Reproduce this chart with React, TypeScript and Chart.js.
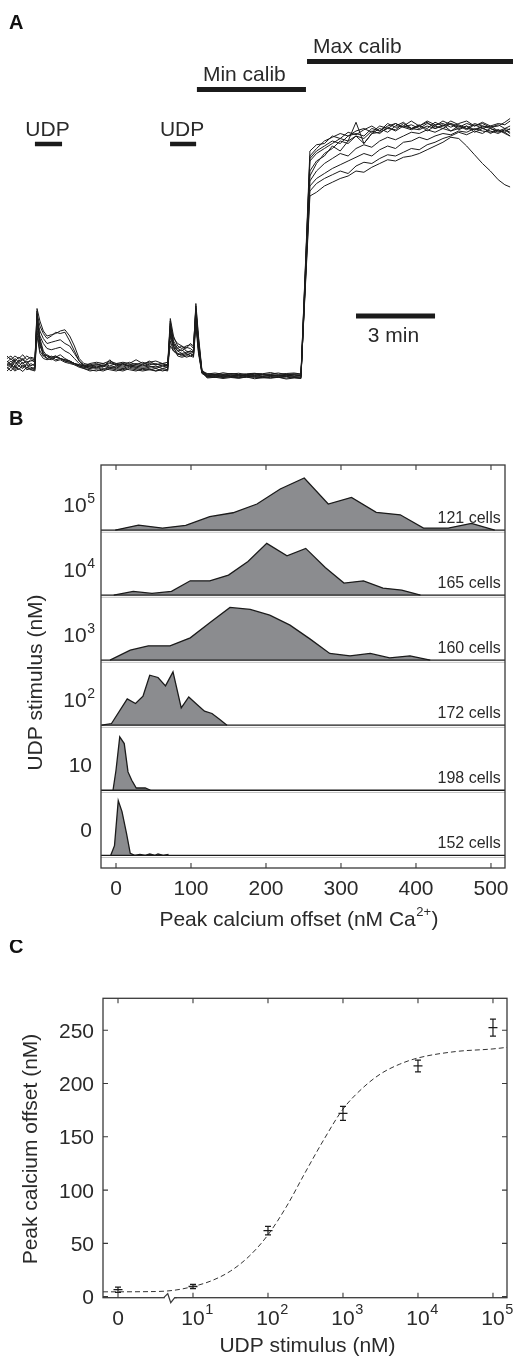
import React, { useEffect, useRef } from "react";
import { Chart, registerables } from "chart.js";
Chart.register(...registerables);

const FONT = "'Liberation Sans', Arial, Helvetica, sans-serif";
const INK = "#1b1b1b";
const TXT = "#2a2a2a";
const FRAME = "#3a3a3a";
const FILL = "#8b8c8f";

// ---------------- Panel A: single-cell calcium traces (a.u.; min calib = 0, max calib = 100) ----------------
const traceTimes = [0, 0.15, 0.3, 0.45, 0.6, 0.75, 0.9, 1.06, 1.14, 1.25, 1.38, 1.52, 1.68, 1.85, 2.02, 2.2, 2.38, 2.56, 2.74, 2.92, 3.15, 3.4, 3.65, 3.9, 4.15, 4.4, 4.65, 4.9, 5.15, 5.4, 5.65, 5.9, 6.1, 6.2, 6.32, 6.48, 6.64, 6.8, 6.96, 7.08, 7.17, 7.27, 7.4, 7.6, 7.9, 8.2, 8.5, 8.8, 9.1, 9.4, 9.7, 10.0, 10.3, 10.6, 10.9, 11.16, 11.32, 11.5, 11.75, 12.05, 12.35, 12.65, 12.95, 13.25, 13.55, 13.85, 14.15, 14.45, 14.75, 15.05, 15.35, 15.65, 15.95, 16.25, 16.55, 16.85, 17.15, 17.45, 17.75, 18.05, 18.35, 18.65, 18.9, 19.1];

const trace1 = [5, 3.5, 6, 4, 5.5, 3, 5, 4, 27, 22, 18, 16, 16.5, 17, 18, 18.5, 16, 12, 7, 5, 4.5, 5, 4, 5.5, 4.5, 5, 4, 4.5, 5.5, 4.5, 5, 4, 4.5, 23, 16, 12, 11, 12, 12.5, 11, 28, 15, 2, 0.5, 0.2, 0.6, 0, 0.4, 0.1, 0.5, 0, 0.3, -0.1, 0.4, 0, 0.2, 40, 88, 91, 94, 95.5, 97, 96, 98, 99, 97.5, 100, 99, 101, 99.5, 100.5, 99, 101, 100, 102, 100.5, 99.5, 101, 100, 101.5, 100, 101, 100.5, 102];
const trace2 = [7, 8, 6, 7.5, 6.5, 8, 7, 6.5, 25, 20, 17, 15, 16, 17.5, 17, 17.5, 14, 10, 6, 4.5, 4, 4.5, 5, 4, 5, 4.5, 5.5, 4.5, 4, 5, 4.5, 5, 4, 21, 15, 13, 12, 11, 13, 12, 27, 13, 1.5, 0.8, 1.2, 0.7, 1.0, 0.6, 0.9, 1.1, 0.7, 0.8, 1.2, 0.6, 0.9, 0.7, 42, 90, 92.5, 93, 96, 95, 97.5, 96.5, 98.5, 100, 98, 101, 99.5, 100, 102, 100, 99, 101.5, 100, 102, 100.5, 99, 101, 100, 99.5, 100.5, 99, 100];
const trace3 = [3, 4.5, 2.5, 4, 3, 5, 3.5, 3, 23, 18, 15, 13, 13.5, 14, 14.5, 13, 12, 9, 6, 4, 3, 3.5, 2.5, 3.5, 3, 2.5, 3.5, 3, 2.5, 3, 2, 3, 2.5, 18, 13, 10, 9, 9.5, 10, 9, 25, 12, 1.8, -0.3, 0, -0.5, -0.2, -0.6, -0.1, -0.4, -0.7, -0.2, -0.5, -0.8, -0.3, -0.5, 36, 76, 79, 81, 83, 84.5, 86, 87.5, 89, 88, 90.5, 92, 91, 93.5, 94, 95.5, 94.5, 96, 97, 96.5, 98, 97.5, 99, 98, 97.5, 98.5, 97, 96];
const trace4 = [6, 4.5, 7, 5.5, 6.5, 5, 6.5, 5.5, 21, 16, 13, 11, 10.5, 11, 11.5, 10, 9, 7, 5, 4, 4, 3.5, 4.5, 3.5, 4, 5, 4, 3.5, 4.5, 4, 3.5, 4.5, 4, 20, 14, 11, 12, 10, 9.5, 10, 29, 16, 2.5, 0.3, 0.6, 0.2, 0.5, 0.1, 0.6, 0.3, 0.7, 0.2, 0.4, 0.1, 0.5, 0.3, 39, 86, 89, 91, 93, 95, 94, 101.5, 93, 97, 97.5, 99, 98.5, 101, 99, 100.5, 98, 100, 99, 101, 98.5, 100, 97.5, 99, 98, 97, 98.5, 97];
const trace5 = [2, 3.5, 2, 3, 1.8, 3.5, 2.5, 2, 24, 15, 10, 8, 7.5, 8, 7, 6.5, 6, 5, 4.5, 4, 3.5, 3, 4, 3, 3.5, 3, 4, 3.5, 3, 3.5, 4, 3, 3.5, 16, 11, 9, 8, 8.5, 9, 8, 24, 10, 1.5, -0.8, -0.5, -1.0, -0.6, -0.9, -0.4, -1.1, -0.7, -0.9, -0.5, -1.2, -0.8, -1.0, 37, 80, 85, 89, 91, 94, 93, 96, 95, 98, 97, 99.5, 98, 100, 99, 98.5, 100, 99, 100.5, 98, 99, 100, 98.5, 99.5, 97, 98.5, 97.5, 96];
const trace6 = [8, 6.5, 8, 7, 8.5, 6.5, 7.5, 7, 22, 14, 9, 7, 8, 6.5, 7, 6, 5.5, 5, 4, 3.5, 3, 4, 3.5, 6.5, 4, 3.5, 4.5, 4, 3.5, 4, 3, 4, 3.5, 19, 12, 10, 10.5, 9, 10, 9.5, 26, 14, 2, 1.0, 0.6, 1.3, 0.8, 1.1, 0.5, 1.0, 0.9, 1.4, 0.7, 1.0, 1.2, 0.8, 41, 87, 90, 92, 94, 93, 96, 97, 96, 99, 98, 100, 101, 99.5, 98.5, 100, 101.5, 99, 100, 101, 100, 98.5, 100.5, 99, 100, 98, 99, 98.5];
const trace7 = [4.5, 6, 4, 6.5, 5, 6, 4, 5, 18, 10, 8, 8.5, 7.5, 8, 7, 6.5, 6, 5, 4.5, 4, 5, 5.5, 5, 6, 5, 5.5, 5, 6.5, 5, 5.5, 6, 5, 5.5, 12, 10, 9, 8.5, 9, 8, 8.5, 22, 11, 1.5, 0.1, 0.4, -0.1, 0.3, 0, 0.5, 0.2, -0.2, 0.3, 0.1, 0.4, -0.1, 0.2, 35, 74, 77, 79, 80.5, 82, 81, 84, 85.5, 85, 87, 88.5, 88, 89.5, 91, 90.5, 92.5, 93.5, 95, 96, 97.5, 96.5, 98, 97, 99, 98, 97.5, 99];
const trace8 = [3.5, 2, 4, 2.5, 4.5, 2.5, 3, 2.5, 26, 13, 8, 7, 6.5, 7.5, 7, 6, 5.5, 4.5, 4, 3, 2.5, 2, 3, 2.5, 2, 3, 2.5, 2, 3, 2.5, 2, 2.5, 2, 22, 13, 11, 10, 11.5, 11, 10, 27, 13, 2, -0.5, -0.2, -0.6, -0.3, -0.1, -0.5, -0.2, -0.6, -0.3, -0.4, -0.1, -0.6, -0.3, 38, 82, 86, 88, 92, 90, 94, 96, 93, 97, 99, 97.5, 100, 101.5, 99, 100, 102, 100.5, 101, 99.5, 101, 102, 100, 101, 99.5, 100, 101.5, 103];
const trace9 = [5.5, 7, 5, 6, 7, 5.5, 6, 6.5, 20, 12, 9, 8, 7, 7.5, 8.5, 7, 6, 5, 4, 3.5, 4, 4.5, 4, 5, 4.5, 4, 4.5, 5, 4.5, 6, 4.5, 5, 4.5, 17, 12, 8, 7.5, 8, 9, 8.5, 23, 10, 1.2, 0.4, 0.7, 0.3, 0.9, 0.5, 0.2, 0.8, 0.4, 0.6, 0.3, 0.7, 0.5, 0.2, 34, 72, 73.5, 76, 77.5, 79, 80, 82, 81.5, 83.5, 85, 86.5, 86, 87.5, 88, 89, 90.5, 92, 93.5, 95.5, 95, 92, 88.5, 85, 82, 78.5, 76.5, 75.6];
const trace10 = [4, 5, 3, 5.5, 3.5, 4.5, 2.5, 3.5, 16, 9, 7, 6.5, 7, 6, 6.5, 5.5, 5, 4.5, 3.5, 3, 2, 2.5, 2, 3, 2.5, 2, 3, 2.5, 2, 2.5, 3, 2, 2.5, 14, 10, 8.5, 9, 7.5, 8, 7.5, 20, 9, 1, -0.2, -0.6, -0.1, -0.4, -0.8, -0.3, -0.5, -0.2, -0.7, -0.4, -0.2, -0.5, -0.9, 37, 78, 82, 85, 87, 89, 88, 91, 92.5, 91.5, 94, 95.5, 94.5, 96, 97.5, 97, 98.5, 97.5, 99, 98, 100, 99, 98.5, 100, 99, 97.5, 98.5, 97.5];
const traces = [trace1, trace2, trace3, trace4, trace5, trace6, trace7, trace8, trace9, trace10];

// treatment intervals (minutes)
const stimLabels = ["UDP", "UDP", "Min calib", "Max calib"];
const stimStart = [1.06, 6.19, 7.21, 11.39];
const stimEnd = [2.09, 7.18, 11.35, 19.3];
const scaleBarStart = 13.25;
const scaleBarMinutes = 3;

// ---------------- Panel B: histograms of peak calcium offset ----------------
const histStimBase = ["10", "10", "10", "10", "10", "0"];
const histStimSup = ["5", "4", "3", "2", "", ""];
const histCells = [121, 165, 160, 172, 198, 152];
const histX1e5 = [-1, 30, 62, 93, 125, 156, 188, 219, 251, 283, 314, 347, 379, 410, 443, 474, 505];
const histF1e5 = [0, 0.077, 0.031, 0.072, 0.205, 0.266, 0.4, 0.631, 0.8, 0.4, 0.503, 0.272, 0.235, 0.031, 0.031, 0.103, 0];
const histX1e4 = [-3, 23, 48, 74, 99, 125, 150, 176, 201, 228, 253, 279, 304, 330, 356, 381, 406];
const histF1e4 = [0, 0.057, 0.026, 0.057, 0.22, 0.22, 0.308, 0.518, 0.795, 0.605, 0.718, 0.426, 0.185, 0.22, 0.108, 0.077, 0];
const histX1e3 = [-8, 19, 43, 72, 99, 125, 152, 179, 205, 232, 259, 285, 312, 339, 365, 392, 419];
const histF1e3 = [0, 0.154, 0.22, 0.22, 0.343, 0.574, 0.811, 0.78, 0.692, 0.538, 0.323, 0.103, 0.066, 0.103, 0.035, 0.066, 0];
const histX1e2 = [-19, -6, 15, 26, 36, 45, 56, 66, 76, 87, 97, 108, 118, 128, 138, 148];
const histF1e2 = [0, 0.026, 0.405, 0.334, 0.446, 0.769, 0.734, 0.605, 0.82, 0.266, 0.435, 0.318, 0.215, 0.18, 0.092, 0];
const histX10 = [-4, 0, 5, 11, 16, 21, 27, 33, 39, 46];
const histF10 = [0, 0.308, 0.82, 0.718, 0.282, 0.154, 0.035, 0.035, 0.035, 0];
const histX0 = [-7, -2, 3, 8, 14, 19, 25, 32, 39, 45, 52, 56, 63, 70];
const histF0 = [0, 0.149, 0.841, 0.672, 0.338, 0.031, 0, 0.015, 0, 0.02, 0, 0.02, 0, 0.015];
const histXs = [histX1e5, histX1e4, histX1e3, histX1e2, histX10, histX0];
const histFs = [histF1e5, histF1e4, histF1e3, histF1e2, histF10, histF0];
const histXTicks = [0, 100, 200, 300, 400, 500];

// ---------------- Panel C: dose response ----------------
const dosePos = [0, 1, 2, 3, 4, 5]; // 0, 10^1 ... 10^5 (log-position)
const doseTickBase = ["0", "10", "10", "10", "10", "10"];
const doseTickSup = ["", "1", "2", "3", "4", "5"];
const doseMean = [6.5, 9.5, 62, 172, 216.5, 252.5];
const doseErr = [2.5, 2, 4, 6.5, 5.5, 8];
const fitPos = [-0.2, 0.5, 0.75, 1.0, 1.25, 1.5, 1.75, 2.0, 2.25, 2.5, 2.75, 3.0, 3.25, 3.5, 3.75, 4.0, 4.5, 5.0, 5.19];
const fitVal = [4.5, 4.8, 6, 9.5, 15, 24, 38, 58, 85, 117, 148, 176, 195, 209, 218, 224, 230, 232.5, 234];
const doseYTicks = [0, 50, 100, 150, 200, 250];
const axisBreakPos = 0.69;

function supWidth(ctx: CanvasRenderingContext2D, base: string, sup: string, bf: string, sf: string) {
  ctx.font = bf;
  const wb = ctx.measureText(base).width;
  ctx.font = sf;
  const ws = sup ? ctx.measureText(sup).width + 0.5 : 0;
  return { wb, ws };
}

const panelAPlugin = {
  id: "panelA",
  afterDatasetsDraw(chart: any) {
    const { ctx, scales } = chart;
    const xs = scales.x;
    ctx.save();
    ctx.fillStyle = "#111";
    ctx.font = `bold 20px ${FONT}`;
    ctx.textAlign = "left";
    ctx.textBaseline = "alphabetic";
    ctx.fillText("A", 9, 29);
    const barY = [144, 144, 89.5, 61.5];
    const barW = [4.5, 4.5, 5, 5];
    const textY = [136, 136, 80.7, 53.3];
    ctx.strokeStyle = INK;
    ctx.lineCap = "butt";
    ctx.fillStyle = TXT;
    ctx.font = `21px ${FONT}`;
    for (let i = 0; i < stimLabels.length; i++) {
      const x0 = xs.getPixelForValue(stimStart[i]);
      const x1 = xs.getPixelForValue(stimEnd[i]);
      ctx.lineWidth = barW[i];
      ctx.beginPath();
      ctx.moveTo(x0, barY[i]);
      ctx.lineTo(x1, barY[i]);
      ctx.stroke();
      if (i < 2) {
        ctx.textAlign = "center";
        ctx.fillText(stimLabels[i], (x0 + x1) / 2 - 1, textY[i]);
      } else {
        ctx.textAlign = "left";
        ctx.fillText(stimLabels[i], x0 + 6, textY[i]);
      }
    }
    const s0 = xs.getPixelForValue(scaleBarStart);
    const s1 = xs.getPixelForValue(scaleBarStart + scaleBarMinutes);
    ctx.lineWidth = 5;
    ctx.beginPath();
    ctx.moveTo(s0, 316);
    ctx.lineTo(s1, 316);
    ctx.stroke();
    ctx.textAlign = "center";
    ctx.fillText(`${scaleBarMinutes} min`, (s0 + s1) / 2 - 2, 342);
    ctx.restore();
  },
};

const panelBPlugin = {
  id: "panelB",
  afterDatasetsDraw(chart: any) {
    const { ctx, chartArea: a, scales } = chart;
    const xs = scales.x, ys = scales.y;
    ctx.save();
    // row baselines
    for (let i = 0; i < 6; i++) {
      const py = ys.getPixelForValue(5 - i);
      ctx.strokeStyle = "#c4c4c4";
      ctx.lineWidth = 1;
      ctx.beginPath();
      ctx.moveTo(a.left, py + 2.2);
      ctx.lineTo(a.right, py + 2.2);
      ctx.stroke();
      ctx.strokeStyle = INK;
      ctx.lineWidth = 1.3;
      ctx.beginPath();
      ctx.moveTo(a.left, py);
      ctx.lineTo(a.right, py);
      ctx.stroke();
    }
    // frame
    ctx.strokeStyle = FRAME;
    ctx.lineWidth = 1.3;
    ctx.strokeRect(a.left, a.top, a.right - a.left, a.bottom - a.top);
    ctx.lineWidth = 1.1;
    for (const v of histXTicks) {
      const px = xs.getPixelForValue(v);
      ctx.beginPath();
      ctx.moveTo(px, a.top);
      ctx.lineTo(px, a.top + 5);
      ctx.moveTo(px, a.bottom);
      ctx.lineTo(px, a.bottom - 5);
      ctx.stroke();
    }
    ctx.fillStyle = TXT;
    ctx.textBaseline = "alphabetic";
    ctx.font = `21px ${FONT}`;
    ctx.textAlign = "center";
    for (const v of histXTicks) ctx.fillText(String(v), xs.getPixelForValue(v), a.bottom + 26.5);
    // x title with superscript
    const bf = `21px ${FONT}`, sf = `13px ${FONT}`;
    ctx.font = bf;
    const p1 = "Peak calcium offset (nM Ca", p3 = ")";
    const w1 = ctx.measureText(p1).width, w3 = ctx.measureText(p3).width;
    ctx.font = sf;
    const w2 = ctx.measureText("2+").width + 1;
    let sx = (a.left + a.right) / 2 - 4 - (w1 + w2 + w3) / 2;
    const ty = a.bottom + 58;
    ctx.textAlign = "left";
    ctx.font = bf;
    ctx.fillText(p1, sx, ty);
    ctx.font = sf;
    ctx.fillText("2+", sx + w1 + 0.5, ty - 10);
    ctx.font = bf;
    ctx.fillText(p3, sx + w1 + w2, ty);
    // row labels and cell counts
    for (let i = 0; i < 6; i++) {
      const py = ys.getPixelForValue(5 - i);
      const base = histStimBase[i], sup = histStimSup[i];
      const rf = `21px ${FONT}`, rs = `14px ${FONT}`;
      const { wb, ws } = supWidth(ctx, base, sup, rf, rs);
      const right = sup ? 95 : 92;
      const x0 = right - wb - ws;
      ctx.textAlign = "left";
      ctx.font = rf;
      ctx.fillText(base, x0, py - 18.5);
      if (sup) {
        ctx.font = rs;
        ctx.fillText(sup, x0 + wb + 0.5, py - 26.8);
      }
      ctx.font = `16px ${FONT}`;
      ctx.textAlign = "right";
      ctx.fillText(`${histCells[i]} cells`, 500.7, py - 7.5);
    }
    // y title
    ctx.save();
    ctx.translate(41.5, (a.top + a.bottom) / 2 + 16);
    ctx.rotate(-Math.PI / 2);
    ctx.textAlign = "center";
    ctx.font = `21px ${FONT}`;
    ctx.fillText("UDP stimulus (nM)", 0, 0);
    ctx.restore();
    // panel letter
    ctx.fillStyle = "#111";
    ctx.font = `bold 20px ${FONT}`;
    ctx.textAlign = "left";
    ctx.fillText("B", 9, 25);
    ctx.restore();
  },
};

const panelCPlugin = {
  id: "panelC",
  afterDatasetsDraw(chart: any) {
    const { ctx, chartArea: a, scales } = chart;
    const xs = scales.x, ys = scales.y;
    ctx.save();
    // error bars
    ctx.strokeStyle = INK;
    ctx.lineWidth = 1.2;
    for (let i = 0; i < dosePos.length; i++) {
      const px = xs.getPixelForValue(dosePos[i]);
      const yt = ys.getPixelForValue(doseMean[i] + doseErr[i]);
      const yb = ys.getPixelForValue(doseMean[i] - doseErr[i]);
      ctx.beginPath();
      ctx.moveTo(px, yt);
      ctx.lineTo(px, yb);
      ctx.moveTo(px - 3, yt);
      ctx.lineTo(px + 3, yt);
      ctx.moveTo(px - 3, yb);
      ctx.lineTo(px + 3, yb);
      ctx.stroke();
    }
    // frame
    ctx.strokeStyle = FRAME;
    ctx.lineWidth = 1.3;
    ctx.strokeRect(a.left, a.top, a.right - a.left, a.bottom - a.top);
    ctx.lineWidth = 1.1;
    for (const v of dosePos) {
      const px = xs.getPixelForValue(v);
      ctx.beginPath();
      ctx.moveTo(px, a.top);
      ctx.lineTo(px, a.top + 5);
      ctx.moveTo(px, a.bottom);
      ctx.lineTo(px, a.bottom - 5);
      ctx.stroke();
    }
    for (const v of doseYTicks) {
      const py = ys.getPixelForValue(v);
      ctx.beginPath();
      ctx.moveTo(a.left, py);
      ctx.lineTo(a.left + 5, py);
      ctx.moveTo(a.right, py);
      ctx.lineTo(a.right - 5, py);
      ctx.stroke();
    }
    // axis break
    const bx = xs.getPixelForValue(axisBreakPos);
    ctx.fillStyle = "#fff";
    ctx.fillRect(bx - 5, a.bottom - 2, 10, 4);
    ctx.strokeStyle = FRAME;
    ctx.lineWidth = 1.2;
    ctx.beginPath();
    ctx.moveTo(bx - 6, a.bottom);
    ctx.lineTo(bx - 2, a.bottom - 4);
    ctx.lineTo(bx + 1, a.bottom + 5);
    ctx.lineTo(bx + 5, a.bottom);
    ctx.lineTo(bx + 7, a.bottom);
    ctx.stroke();
    // labels
    ctx.fillStyle = TXT;
    ctx.textBaseline = "alphabetic";
    ctx.font = `21px ${FONT}`;
    ctx.textAlign = "right";
    for (const v of doseYTicks) ctx.fillText(String(v), a.left - 9, ys.getPixelForValue(v) + 7.5);
    for (let i = 0; i < dosePos.length; i++) {
      const px = xs.getPixelForValue(dosePos[i]);
      ctx.font = `21px ${FONT}`;
      const wb = ctx.measureText(doseTickBase[i]).width;
      ctx.textAlign = "left";
      ctx.fillText(doseTickBase[i], px - wb / 2, a.bottom + 27.3);
      if (doseTickSup[i]) {
        ctx.font = `14.5px ${FONT}`;
        ctx.fillText(doseTickSup[i], px + wb / 2 + 0.5, a.bottom + 16.5);
      }
    }
    ctx.font = `21px ${FONT}`;
    ctx.textAlign = "center";
    ctx.fillText("UDP stimulus (nM)", (a.left + a.right) / 2 + 2.5, a.bottom + 54.3);
    ctx.save();
    ctx.translate(36.5, (a.top + a.bottom) / 2 + 1);
    ctx.rotate(-Math.PI / 2);
    ctx.fillText("Peak calcium offset (nM)", 0, 0);
    ctx.restore();
    ctx.fillStyle = "#111";
    ctx.font = `bold 20px ${FONT}`;
    ctx.textAlign = "left";
    ctx.fillText("C", 9, 13.3);
    ctx.restore();
  },
};

const baseOptions = {
  responsive: false,
  animation: false as const,
  devicePixelRatio: 1,
  events: [] as any[],
  plugins: { legend: { display: false }, tooltip: { enabled: false } },
};

export default function App() {
  const refA = useRef<HTMLCanvasElement>(null);
  const refB = useRef<HTMLCanvasElement>(null);
  const refC = useRef<HTMLCanvasElement>(null);

  useEffect(() => {
    const charts: Chart[] = [];
    charts.push(
      new Chart(refA.current!, {
        type: "line",
        data: {
          datasets: traces.map((tr) => ({
            data: traceTimes.map((t, i) => ({ x: t, y: tr[i] })),
            borderColor: INK,
            borderWidth: 1,
            pointRadius: 0,
            tension: 0,
            fill: false,
          })),
        },
        options: {
          ...baseOptions,
          layout: { padding: { left: 7, right: 0, top: 0, bottom: 0 } },
          scales: {
            x: { type: "linear", min: 0, max: 19.21, display: false },
            y: { type: "linear", min: -9.6, max: 150.4, display: false },
          },
        } as any,
        plugins: [panelAPlugin],
      })
    );
    charts.push(
      new Chart(refB.current!, {
        type: "line",
        data: {
          datasets: histXs.map((xsArr, i) => ({
            data: xsArr.map((x, j) => ({ x, y: 5 - i + histFs[i][j] })),
            fill: { value: 5 - i },
            backgroundColor: FILL,
            borderColor: INK,
            borderWidth: 1.3,
            pointRadius: 0,
            tension: 0,
          })),
        },
        options: {
          ...baseOptions,
          layout: { padding: { left: 101, right: 8, top: 65, bottom: 72 } },
          scales: {
            x: { type: "linear", min: -20, max: 518.7, display: false },
            y: { type: "linear", min: -0.195, max: 6, display: false },
          },
        } as any,
        plugins: [panelBPlugin],
      })
    );
    charts.push(
      new Chart(refC.current!, {
        type: "line",
        data: {
          datasets: [
            {
              data: fitPos.map((x, i) => ({ x, y: fitVal[i] })),
              borderColor: "#333",
              borderWidth: 1,
              borderDash: [5, 3],
              pointRadius: 0,
              cubicInterpolationMode: "monotone",
              fill: false,
            },
            {
              data: dosePos.map((x, i) => ({ x, y: doseMean[i] })),
              showLine: false,
              pointStyle: "line",
              pointRadius: 4.5,
              borderColor: INK,
              backgroundColor: INK,
              pointBorderWidth: 1.3,
            },
          ],
        },
        options: {
          ...baseOptions,
          layout: { padding: { left: 103, right: 6, top: 58.3, bottom: 60.3 } },
          scales: {
            x: { type: "linear", min: -0.2, max: 5.187, display: false },
            y: { type: "linear", min: -1, max: 280, display: false },
          },
        } as any,
        plugins: [panelCPlugin],
      })
    );
    return () => charts.forEach((c) => c.destroy());
  }, []);

  return (
    <div style={{ position: "absolute", left: 0, top: 0, width: 513, height: 1358, background: "#fff" }}>
      <canvas ref={refA} width={513} height={400} style={{ position: "absolute", left: 0, top: 0 }} />
      <canvas ref={refB} width={513} height={540} style={{ position: "absolute", left: 0, top: 400 }} />
      <canvas ref={refC} width={513} height={418} style={{ position: "absolute", left: 0, top: 940 }} />
    </div>
  );
}
